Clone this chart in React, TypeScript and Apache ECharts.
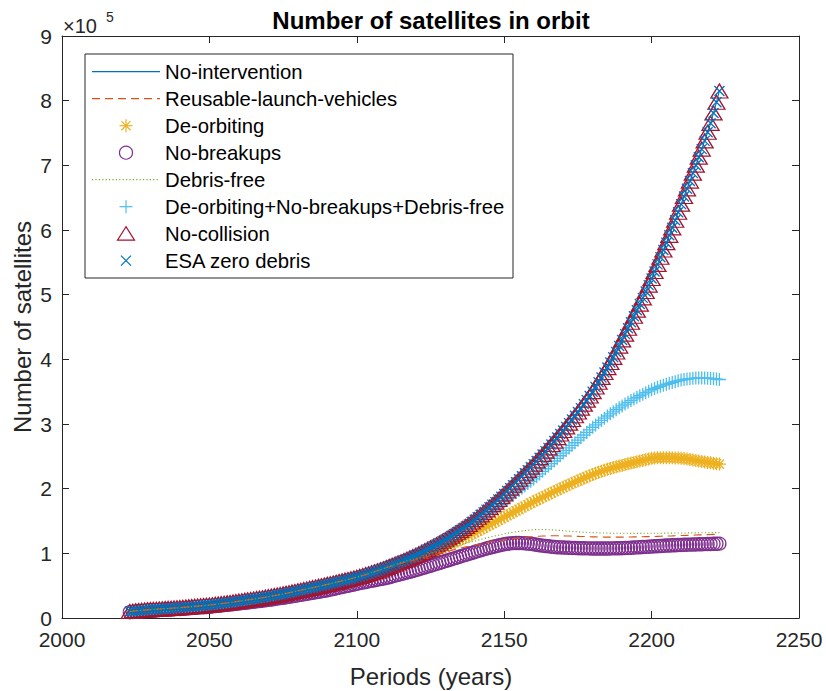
import React, { useEffect, useRef } from "react";
import * as echarts from "echarts";

// ---------- data (thousands of satellites, one value per year from 2023 to 2223) ----------
const FIRST_YEAR = 2023;

const noIntervention = [
  10.0, 10.5, 11.0, 11.4, 11.8, 12.2, 12.6, 13.0,
  13.3, 13.6, 13.9, 14.2, 14.5, 14.8, 15.1, 15.4, 15.7, 16.0,
  16.4, 16.8, 17.2, 17.6, 18.0, 18.4, 18.8, 19.2, 19.6, 20.0,
  20.5, 21.1, 21.6, 22.2, 22.8, 23.4, 24.0, 24.6, 25.3, 26.0,
  26.6, 27.3, 28.0, 28.6, 29.3, 30.0, 30.7, 31.4, 32.2, 33.0,
  33.8, 34.6, 35.5, 36.3, 37.2, 38.1, 39.0, 40.0, 41.0, 42.0,
  42.9, 43.9, 44.9, 45.9, 46.9, 47.9, 48.9, 49.9, 51.0, 52.0,
  53.0, 54.1, 55.2, 56.3, 57.4, 58.5, 59.6, 60.7, 61.9, 63.0,
  64.3, 65.7, 67.1, 68.5, 70.0, 71.5, 73.0, 74.5, 76.2, 78.0,
  79.8, 81.6, 83.4, 85.2, 87.0, 88.9, 90.9, 92.9, 94.9, 97.0,
  99.2, 101.5, 103.8, 106.1, 108.5, 110.9, 113.3, 115.8, 118.4, 121.0,
  123.8, 126.7, 129.6, 132.6, 135.6, 138.6, 141.7, 144.8, 148.4, 152.0,
  155.8, 159.6, 163.4, 167.3, 171.2, 175.2, 179.2, 183.3, 187.6, 192.0,
  196.4, 200.9, 205.4, 210.0, 214.6, 219.2, 223.8, 228.4, 233.2, 238.0,
  242.9, 247.9, 252.9, 258.0, 263.1, 268.3, 273.6, 279.0, 284.5, 290.0,
  295.6, 301.3, 307.0, 312.8, 318.6, 324.6, 330.7, 336.9, 343.3, 350.0,
  357.2, 364.6, 372.0, 379.6, 387.3, 395.1, 403.1, 411.3, 420.5, 430.0,
  439.0, 448.1, 457.3, 466.6, 476.0, 485.5, 495.1, 504.9, 514.8, 525.0,
  535.8, 546.8, 557.9, 569.1, 580.4, 591.8, 603.4, 615.1, 627.4, 640.0,
  651.8, 663.7, 675.7, 687.9, 700.2, 712.6, 725.1, 737.8, 751.2, 765.0,
  781.0, 797.5, 815.0,
];

// No-collision and ESA zero debris lie on the No-intervention curve
const noCollision = noIntervention;
const esaZeroDebris = noIntervention;

// Reusable-launch-vehicles: 2111 .. 2223
const reusableTail = [
  79.3, 80.6, 81.9, 83.2, 84.5, 85.7, 86.9, 88.0, 89.0, 90.0,
  91.3, 92.6, 93.9, 95.1, 96.3, 97.5, 98.7, 99.8, 100.9, 102.0,
  103.2, 104.4, 105.6, 106.8, 107.9, 109.0, 110.0, 111.0, 112.0, 113.0,
  113.9, 114.8, 115.7, 116.6, 117.4, 118.2, 118.9, 119.6, 120.3, 121.0,
  121.6, 122.2, 122.8, 123.3, 123.8, 124.3, 124.7, 125.1, 125.6, 126.0,
  126.3, 126.5, 126.7, 126.9, 127.0, 127.1, 127.1, 127.1, 127.0, 127.0,
  126.9, 126.7, 126.6, 126.4, 126.3, 126.1, 126.0, 125.8, 125.7, 125.5,
  125.4, 125.3, 125.2, 125.1, 125.0, 125.0, 125.0, 125.0, 125.0, 125.0,
  125.1, 125.2, 125.3, 125.4, 125.5, 125.6, 125.7, 125.8, 125.9, 126.0,
  126.1, 126.3, 126.4, 126.6, 126.7, 126.9, 127.0, 127.2, 127.3, 127.5,
  127.6, 127.8, 127.9, 128.1, 128.3, 128.5, 128.6, 128.8, 129.0, 129.2,
  129.3, 129.4, 129.5,
];

// De-orbiting: 2106 .. 2223
const deOrbitingTail = [
  71.2, 72.4, 73.6, 74.8, 76.0,
  77.5, 79.0, 80.5, 82.1, 83.7, 85.3, 86.9, 88.5, 90.2, 92.0,
  93.8, 95.6, 97.4, 99.2, 101.0, 102.8, 104.6, 106.4, 108.2, 110.0,
  112.1, 114.2, 116.4, 118.6, 120.8, 123.0, 125.2, 127.4, 129.7, 132.0,
  134.4, 136.8, 139.2, 141.6, 144.0, 146.4, 148.8, 151.2, 153.6, 156.0,
  158.4, 160.8, 163.2, 165.6, 168.0, 170.4, 172.8, 175.2, 177.6, 180.0,
  182.3, 184.5, 186.8, 189.0, 191.2, 193.4, 195.6, 197.8, 199.9, 202.0,
  204.1, 206.2, 208.3, 210.3, 212.3, 214.3, 216.3, 218.2, 220.1, 222.0,
  223.7, 225.3, 226.9, 228.4, 229.9, 231.3, 232.6, 233.8, 235.0, 236.0,
  237.2, 238.4, 239.5, 240.6, 241.7, 242.7, 243.7, 244.7, 245.9, 247.0,
  247.4, 247.7, 247.9, 248.0, 248.0, 247.9, 247.8, 247.6, 247.3, 247.0,
  246.5, 245.9, 245.2, 244.4, 243.6, 242.8, 242.0, 241.3, 240.6, 240.0,
  239.3, 238.6, 238.0,
];

// No-breakups: 2023 .. 2223
const noBreakups = [
  9.0, 9.4, 9.7, 10.1, 10.4, 10.8, 11.1, 11.5,
  11.7, 12.0, 12.2, 12.5, 12.7, 13.0, 13.2, 13.5, 13.7, 14.0,
  14.3, 14.6, 15.0, 15.3, 15.7, 16.0, 16.4, 16.7, 17.1, 17.5,
  17.9, 18.4, 18.9, 19.4, 19.9, 20.4, 20.9, 21.4, 21.9, 22.5,
  23.0, 23.5, 24.0, 24.6, 25.1, 25.7, 26.2, 26.8, 27.4, 28.0,
  28.7, 29.3, 30.0, 30.7, 31.4, 32.1, 32.8, 33.5, 34.2, 35.0,
  35.8, 36.6, 37.4, 38.2, 39.0, 39.8, 40.6, 41.4, 42.2, 43.0,
  43.9, 44.9, 45.9, 46.9, 47.9, 48.9, 49.9, 50.9, 51.9, 53.0,
  53.9, 54.8, 55.7, 56.6, 57.5, 58.4, 59.3, 60.2, 61.1, 62.0,
  63.1, 64.3, 65.5, 66.7, 67.9, 69.1, 70.3, 71.5, 72.7, 74.0,
  75.3, 76.7, 78.1, 79.5, 80.9, 82.3, 83.7, 85.1, 86.5, 88.0,
  89.4, 90.8, 92.2, 93.6, 95.0, 96.4, 97.8, 99.2, 100.6, 102.0,
  103.4, 104.8, 106.1, 107.4, 108.6, 109.8, 110.9, 112.0, 113.0, 114.0,
  114.8, 115.4, 115.8, 116.0, 116.0, 115.8, 115.5, 115.1, 114.6, 114.0,
  113.3, 112.6, 111.9, 111.3, 110.8, 110.3, 109.9, 109.5, 109.2, 109.0,
  108.8, 108.6, 108.4, 108.2, 108.0, 107.9, 107.8, 107.7, 107.6, 107.5,
  107.5, 107.5, 107.5, 107.5, 107.5, 107.6, 107.7, 107.8, 107.9, 108.0,
  108.2, 108.4, 108.6, 108.9, 109.2, 109.5, 109.8, 110.0, 110.3, 110.5,
  110.8, 111.1, 111.4, 111.7, 112.0, 112.2, 112.4, 112.6, 112.8, 113.0,
  113.2, 113.4, 113.5, 113.7, 113.8, 113.9, 114.0, 114.2, 114.3, 114.5,
  114.7, 114.8, 115.0,
];

// Debris-free: 2111 .. 2223
const debrisFreeTail = [
  79.5, 81.0, 82.5, 84.0, 85.5, 87.0, 88.3, 89.6, 90.8, 92.0,
  93.5, 95.0, 96.5, 98.0, 99.5, 101.0, 102.3, 103.6, 104.8, 106.0,
  107.4, 108.8, 110.2, 111.6, 112.9, 114.2, 115.4, 116.6, 117.8, 119.0,
  120.2, 121.4, 122.6, 123.8, 124.9, 126.0, 127.0, 128.0, 129.0, 130.0,
  131.0, 131.9, 132.7, 133.4, 134.0, 134.6, 135.1, 135.6, 136.1, 136.5,
  136.7, 136.8, 136.8, 136.7, 136.5, 136.3, 136.0, 135.7, 135.4, 135.0,
  134.6, 134.2, 133.9, 133.6, 133.3, 133.0, 132.7, 132.5, 132.2, 132.0,
  131.8, 131.7, 131.5, 131.4, 131.3, 131.2, 131.1, 131.1, 131.0, 131.0,
  131.0, 131.0, 130.9, 130.9, 130.9, 130.9, 130.9, 131.0, 131.0, 131.0,
  131.0, 131.1, 131.1, 131.2, 131.2, 131.3, 131.3, 131.4, 131.4, 131.5,
  131.5, 131.6, 131.6, 131.7, 131.7, 131.8, 131.8, 131.9, 131.9, 132.0,
  132.0, 132.0, 132.0,
];

// De-orbiting+No-breakups+Debris-free: 2131 .. 2223
const combinedTail = [
  123.6, 126.2, 128.8, 131.5, 134.2, 136.9, 139.6, 142.3, 145.1, 148.0,
  151.1, 154.2, 157.4, 160.6, 163.8, 167.0, 170.2, 173.4, 176.7, 180.0,
  183.4, 186.8, 190.3, 193.8, 197.3, 200.8, 204.3, 207.8, 211.4, 215.0,
  218.9, 222.8, 226.8, 230.8, 234.8, 238.8, 242.8, 246.8, 250.9, 255.0,
  259.0, 263.0, 267.0, 271.0, 275.0, 279.0, 283.0, 287.0, 291.0, 295.0,
  298.6, 302.1, 305.6, 309.0, 312.4, 315.7, 318.9, 322.0, 325.0, 328.0,
  330.8, 333.5, 336.2, 338.8, 341.3, 343.7, 346.1, 348.4, 350.7, 353.0,
  354.9, 356.7, 358.4, 360.0, 361.5, 362.9, 364.2, 365.5, 366.8, 368.0,
  368.8, 369.5, 370.1, 370.6, 371.0, 371.2, 371.3, 371.2, 370.9, 370.5,
  370.0, 369.4, 368.8,
];

const reusable = [...noIntervention.slice(0, 88), ...reusableTail];
const deOrbiting = [...noIntervention.slice(0, 83), ...deOrbitingTail];
const debrisFree = [...noIntervention.slice(0, 88), ...debrisFreeTail];
const combined = [...noIntervention.slice(0, 108), ...combinedTail];

const X_MIN = 2000;
const X_MAX = 2250;
const X_STEP = 50;
const Y_MAX = 900000;
const Y_STEP = 100000;

const seriesNames = [
  "No-intervention",
  "Reusable-launch-vehicles",
  "De-orbiting",
  "No-breakups",
  "Debris-free",
  "De-orbiting+No-breakups+Debris-free",
  "No-collision",
  "ESA zero debris",
];

const COLORS = ["#0072BD", "#D95319", "#EDB120", "#7E2F8E", "#77AC30", "#4DBEEE", "#A2142F", "#0072BD"];

const ASTERISK = "path://M0,-10L0,10M-10,0L10,0M-7.07,-7.07L7.07,7.07M-7.07,7.07L7.07,-7.07";
const PLUS = "path://M0,-10L0,10M-10,0L10,0";
const CROSS = "path://M-10,-10L10,10M-10,10L10,-10";

const FONT = "'Liberation Sans', Arial, Helvetica, sans-serif";
const AXIS_COLOR = "#262626";

function toPairs(arr: number[]) {
  return arr.map((v, i) => [FIRST_YEAR + i, v * 1000]);
}

function lineSeries(name: string, arr: number[], color: string, type: any) {
  return {
    name,
    type: "line",
    data: toPairs(arr),
    symbol: "none",
    showSymbol: false,
    silent: true,
    lineStyle: { color, width: 1.1, type },
  };
}

function markerSeries(name: string, arr: number[], color: string, symbol: string, size: any) {
  return {
    name,
    type: "scatter",
    data: toPairs(arr),
    symbol,
    symbolSize: size,
    silent: true,
    itemStyle: { color: "rgba(0,0,0,0)", borderColor: color, borderWidth: 1.3, opacity: 1 },
  };
}

// ---------- legend drawn with graphic elements ----------
const LG_X = 85;
const LG_Y = 54;
const LG_W = 428;
const LG_H = 224;
const ROW0 = 71.7;
const ROW_GAP = 27;
const ICON_X1 = 92;
const ICON_X2 = 160;
const ICON_CX = 126;
const TEXT_X = 165;

function legendGraphics() {
  const els: any[] = [];
  els.push({
    type: "rect",
    shape: { x: LG_X, y: LG_Y, width: LG_W, height: LG_H },
    style: { fill: "#fff", stroke: AXIS_COLOR, lineWidth: 1 },
    z: 100,
  });
  const ln = (x1: number, y1: number, x2: number, y2: number, stroke: string, extra: any = {}) => ({
    type: "line",
    shape: { x1, y1, x2, y2 },
    style: { stroke, lineWidth: 1.2, ...extra },
    z: 101,
  });
  seriesNames.forEach((name, i) => {
    const cy = ROW0 + i * ROW_GAP;
    const c = COLORS[i];
    if (i === 0) els.push(ln(ICON_X1, cy, ICON_X2, cy, c));
    if (i === 1) els.push(ln(ICON_X1, cy, ICON_X2, cy, c, { lineDash: [8, 5] }));
    if (i === 4) els.push(ln(ICON_X1, cy, ICON_X2, cy, c, { lineDash: [1.2, 2.2] }));
    if (i === 2) {
      const r = 6.5;
      const d = r * 0.707;
      els.push(ln(ICON_CX, cy - r, ICON_CX, cy + r, c));
      els.push(ln(ICON_CX - r, cy, ICON_CX + r, cy, c));
      els.push(ln(ICON_CX - d, cy - d, ICON_CX + d, cy + d, c));
      els.push(ln(ICON_CX - d, cy + d, ICON_CX + d, cy - d, c));
    }
    if (i === 3) {
      els.push({
        type: "circle",
        shape: { cx: ICON_CX, cy, r: 6.5 },
        style: { fill: "none", stroke: c, lineWidth: 1.2 },
        z: 101,
      });
    }
    if (i === 5) {
      const r = 6.5;
      els.push(ln(ICON_CX, cy - r, ICON_CX, cy + r, c));
      els.push(ln(ICON_CX - r, cy, ICON_CX + r, cy, c));
    }
    if (i === 6) {
      els.push({
        type: "polygon",
        shape: {
          points: [
            [ICON_CX, cy - 7],
            [ICON_CX - 8.5, cy + 6.5],
            [ICON_CX + 8.5, cy + 6.5],
          ],
        },
        style: { fill: "none", stroke: c, lineWidth: 1.2 },
        z: 101,
      });
    }
    if (i === 7) {
      const r = 5;
      els.push(ln(ICON_CX - r, cy - r, ICON_CX + r, cy + r, c));
      els.push(ln(ICON_CX - r, cy + r, ICON_CX + r, cy - r, c));
    }
    els.push({
      type: "text",
      x: TEXT_X,
      y: cy,
      style: {
        text: name,
        fontSize: 20.3,
        fontFamily: FONT,
        fill: "#000",
        textAlign: "left",
        align: "left",
        textVerticalAlign: "middle",
        verticalAlign: "middle",
      },
      z: 101,
    });
  });
  return els;
}

export default function App() {
  const ref = useRef<HTMLDivElement>(null);

  useEffect(() => {
    if (!ref.current) return;
    const chart = echarts.init(ref.current, undefined, { renderer: "svg" });

    const axisCommon = {
      type: "value",
      axisLine: { show: true, onZero: false, lineStyle: { color: AXIS_COLOR, width: 1 } },
      axisTick: { show: true, inside: true, length: 7, lineStyle: { color: AXIS_COLOR, width: 1 } },
      splitLine: { show: false },
    };

    const textCommon = (extra: any) => ({
      type: "text",
      ...extra,
      style: {
        fill: AXIS_COLOR,
        fontFamily: FONT,
        textAlign: "center",
        align: "center",
        textVerticalAlign: "middle",
        verticalAlign: "middle",
        ...extra.style,
      },
    });

    const option: any = {
      animation: false,
      backgroundColor: "#fff",
      grid: { left: 62, right: 27, top: 36, bottom: 73, containLabel: false },
      xAxis: [
        {
          ...axisCommon,
          min: X_MIN,
          max: X_MAX,
          interval: X_STEP,
          position: "bottom",
          axisLabel: {
            show: true,
            color: AXIS_COLOR,
            fontSize: 21,
            fontFamily: FONT,
            margin: 11,
            formatter: (v: number) => String(v),
          },
        },
        {
          ...axisCommon,
          min: X_MIN,
          max: X_MAX,
          interval: X_STEP,
          position: "top",
          axisLabel: { show: false },
        },
      ],
      yAxis: [
        {
          ...axisCommon,
          min: 0,
          max: Y_MAX,
          interval: Y_STEP,
          position: "left",
          axisLabel: {
            show: true,
            color: AXIS_COLOR,
            fontSize: 21,
            fontFamily: FONT,
            margin: 10,
            formatter: (v: number) => String(Math.round(v / 100000)),
          },
        },
        {
          ...axisCommon,
          min: 0,
          max: Y_MAX,
          interval: Y_STEP,
          position: "right",
          axisLabel: { show: false },
        },
      ],
      series: [
        lineSeries(seriesNames[0], noIntervention, COLORS[0], "solid"),
        lineSeries(seriesNames[1], reusable, COLORS[1], [8, 5]),
        markerSeries(seriesNames[2], deOrbiting, COLORS[2], ASTERISK, 13),
        markerSeries(seriesNames[3], noBreakups, COLORS[3], "circle", 13),
        lineSeries(seriesNames[4], debrisFree, COLORS[4], [1.2, 2.2]),
        markerSeries(seriesNames[5], combined, COLORS[5], PLUS, 13),
        markerSeries(seriesNames[6], noCollision, COLORS[6], "triangle", [17, 14]),
        markerSeries(seriesNames[7], esaZeroDebris, COLORS[7], CROSS, 10),
      ],
      graphic: [
        textCommon({
          x: 431,
          y: 20,
          style: { text: "Number of satellites in orbit", fontSize: 24, fontWeight: "bold", fill: "#000" },
        }),
        textCommon({
          x: 431,
          y: 676,
          style: { text: "Periods (years)", fontSize: 24 },
        }),
        textCommon({
          x: 22,
          y: 327,
          rotation: Math.PI / 2,
          style: { text: "Number of satellites", fontSize: 24 },
        }),
        {
          type: "text",
          x: 63,
          y: 36,
          style: {
            text: "×10",
            fontSize: 20,
            fontFamily: FONT,
            fill: AXIS_COLOR,
            textAlign: "left",
            align: "left",
            textVerticalAlign: "bottom",
            verticalAlign: "bottom",
          },
        },
        {
          type: "text",
          x: 106,
          y: 24,
          style: {
            text: "5",
            fontSize: 14,
            fontFamily: FONT,
            fill: AXIS_COLOR,
            textAlign: "left",
            align: "left",
            textVerticalAlign: "bottom",
            verticalAlign: "bottom",
          },
        },
        ...legendGraphics(),
      ],
    };

    chart.setOption(option);
    return () => chart.dispose();
  }, []);

  return (
    <div
      ref={ref}
      style={{ position: "fixed", left: 0, top: 0, width: 826, height: 691, background: "#fff" }}
    />
  );
}
